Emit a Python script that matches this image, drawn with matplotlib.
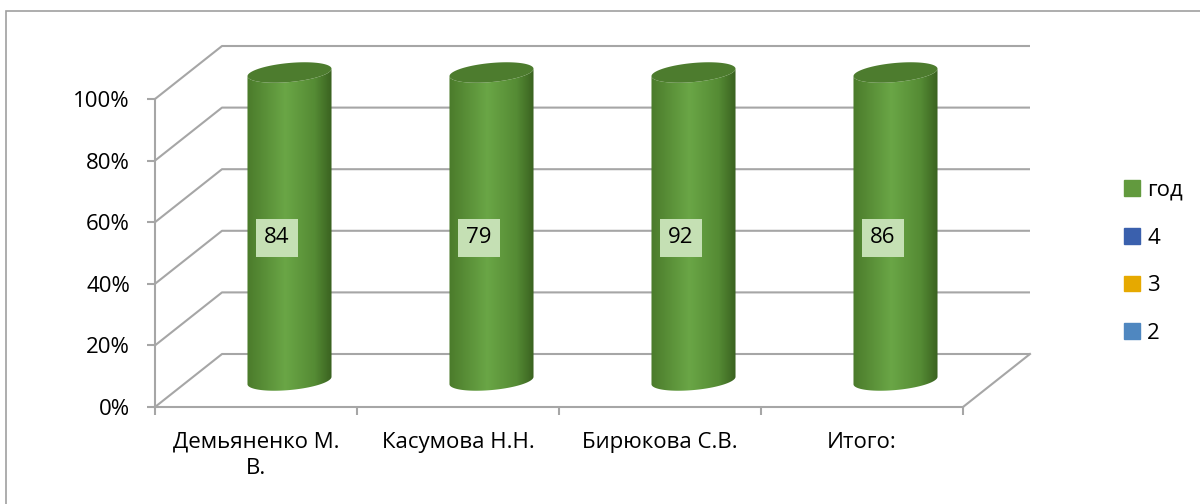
import numpy as np
import matplotlib
matplotlib.use("Agg")
from matplotlib import pyplot as plt
from matplotlib.patches import Polygon, Patch, Rectangle
from matplotlib.colors import LinearSegmentedColormap

# data
categories = ["Демьяненко М.\nВ.", "Касумова Н.Н.", "Бирюкова С.В.", "Итого:"]
series_names = ["2", "3", "4", "год"]
series_colors = ["#4f87c0", "#e6a900", "#3a60ad", "#629a3e"]
vals_2 = [0, 0, 0, 0]
vals_3 = [0, 0, 0, 0]
vals_4 = [0, 0, 0, 0]
vals_year = [84, 79, 92, 86]
yticks = [0, 20, 40, 60, 80, 100]

plt.rcParams.update({"font.family": ["Open Sans", "DejaVu Sans"], "font.size": 16})

W, H = 1200, 504
fig = plt.figure(figsize=(12, 5.04), dpi=100)

# 3d-ish depth offset (in data units)
DX = 875 / 202 - 4
DY = 361 / 3.08 - 100
ax = fig.add_axes([155 / W, 1 - 407 / H, 875 / W, 361 / H])
ax.set_xlim(0, 4 + DX)
ax.set_ylim(0, 100 + DY)
ax.patch.set_visible(False)

grid_c = "#a6a6a6"
for s in ["top", "right"]:
    ax.spines[s].set_visible(False)
for s in ["left", "bottom"]:
    ax.spines[s].set_color(grid_c)
    ax.spines[s].set_linewidth(1.5)
ax.spines["left"].set_bounds(0, 100)
ax.spines["bottom"].set_bounds(0, 4)

ax.set_yticks(yticks)
ax.set_yticklabels(["%d%%" % t for t in yticks])
ax.tick_params(axis="y", length=6, width=1.5, color=grid_c, pad=12)
ax.set_xticks(range(5))
ax.set_xticklabels([])
ax.tick_params(axis="x", which="major", length=6, width=1.5, color=grid_c)
ax.set_xticks(np.arange(4) + 0.5, minor=True)
ax.set_xticklabels(categories, minor=True, linespacing=1.3)
ax.tick_params(axis="x", which="minor", length=0, pad=18)

# walls and floor
for p in yticks:
    ax.plot([0, DX, 4 + DX], [p, p + DY, p + DY], color=grid_c, lw=1.5,
            clip_on=False, zorder=1, solid_capstyle="butt")
ax.plot([4 + DX, 4], [DY, 0], color=grid_c, lw=1.5, clip_on=False, zorder=1)

# cylinders (100% stacked -> every column is full height)
cmap = LinearSegmentedColormap.from_list(
    "cyl", [(0, "#4b7b2b"), (0.45, "#6aa646"), (0.8, "#558b34"), (1, "#3a6220")])
r = 0.208
b = 3.1
k = 1.2
t = np.linspace(np.pi, 2 * np.pi, 60)
full = np.linspace(0, 2 * np.pi, 120)
totals = np.array(vals_2) + np.array(vals_3) + np.array(vals_4) + np.array(vals_year)
for i, tot in enumerate(totals):
    cx = i + 0.5 + DX / 2
    y0 = DY / 2
    y1 = y0 + 100 * tot / tot
    bx = cx + r * np.cos(t)
    by = y0 + b * np.sin(t) + k * np.cos(t)
    tx = cx + r * np.cos(t[::-1])
    ty = y1 + b * np.sin(t[::-1]) + k * np.cos(t[::-1])
    body = Polygon(np.column_stack([np.r_[bx, tx], np.r_[by, ty]]),
                   closed=True, fc="none", ec="none", transform=ax.transData)
    ax.add_patch(body)
    grad = np.linspace(0, 1, 200)[None, :]
    im = ax.imshow(grad, cmap=cmap, aspect="auto", zorder=3,
                   extent=[cx - r, cx + r, y0 - b - 2, y1 + b + 2])
    im.set_clip_path(body)
    ex = cx + r * np.cos(full)
    ey = y1 + b * np.sin(full) + k * np.cos(full)
    ax.fill(ex, ey, color="#4d7c2e", zorder=4, lw=0)

    ax.text(i + 0.604, 54.9, str(vals_year[i]), ha="center", va="center",
            fontsize=16, zorder=5,
            bbox=dict(boxstyle="square,pad=0.38", fc="#c5e0b4", ec="none"))

ax.set_xlim(0, 4 + DX)
ax.set_ylim(0, 100 + DY)

handles = [Patch(color=c) for c in series_colors][::-1]
fig.legend(handles, series_names[::-1], loc="center left",
           bbox_to_anchor=(1104 / W, 1 - 262 / H), frameon=False,
           handlelength=0.7, handleheight=0.7, handletextpad=0.35,
           labelspacing=1.2, fontsize=16)

fig.patches.append(Rectangle((6 / W, -0.1), 1.0, 1.1 - 11 / H, transform=fig.transFigure,
                             fill=False, ec="#a0a0a0", lw=1.2))

fig.savefig("out.png", dpi=100)
